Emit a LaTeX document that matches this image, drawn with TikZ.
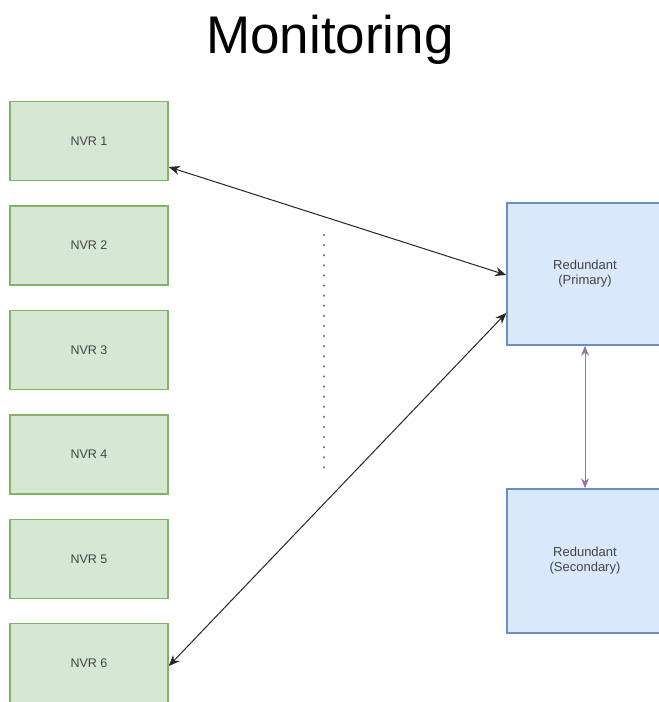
\documentclass[tikz,border=0pt]{standalone}
\usepackage{fontspec}
\setmainfont{Liberation Sans}
\usetikzlibrary{arrows.meta}
\definecolor{gfill}{HTML}{D5E8D4}
\definecolor{gline}{HTML}{82B366}
\definecolor{bfill}{HTML}{DAE8FC}
\definecolor{bline}{HTML}{6C8EBF}
\definecolor{purp}{HTML}{9673A6}
\definecolor{txt}{HTML}{444444}
\tikzset{
  nvr/.style={draw=gline, fill=gfill, line width=1.6pt, minimum width=158pt, minimum height=79pt, inner sep=0pt, text=txt, font=\fontsize{12.5}{15}\selectfont},
  red/.style={draw=bline, fill=bfill, line width=1.6pt, minimum width=156pt, minimum height=142pt, inner sep=0pt, text=txt, align=center, font=\fontsize{13}{15}\selectfont},
  link/.style={draw=black!85, line width=1pt, {Stealth[length=11pt,width=9pt]}-{Stealth[length=11pt,width=9pt]}},
  plink/.style={draw=purp, line width=1pt, {Stealth[length=10pt,width=8pt]}-{Stealth[length=10pt,width=8pt]}},
  dots/.style={draw=black!60, line width=2.4pt, line cap=round, dash pattern=on 0.1pt off 10pt}
}
\begin{document}
\begin{tikzpicture}[x=1pt,y=-1pt]
\useasboundingbox (0,0) rectangle (659,702);
\clip (0,0) rectangle (659,702);
\fill[white] (0,0) rectangle (659,702);
\node[anchor=base, font=\fontsize{53}{60}\selectfont] (title) at (330,53) {Monitoring};
\node[nvr] (n1) at (89,141) {NVR 1};
\node[nvr] (n2) at (89,245.5) {NVR 2};
\node[nvr] (n3) at (89,350) {NVR 3};
\node[nvr] (n4) at (89,454.5) {NVR 4};
\node[nvr] (n5) at (89,559) {NVR 5};
\node[nvr] (n6) at (89,663) {NVR 6};
\node[red] (p) at (585,274) {Redundant\\(Primary)};
\node[red, minimum height=144pt] (s) at (585,561) {Redundant\\(Secondary)};
\coordinate (d1) at (324,235);
\coordinate (d2) at (324,476);
\draw[dots] (d1) -- (d2);
\draw[link] ([yshift=-26pt]n1.east) -- ([yshift=-1pt]p.west);
\draw[link] ([yshift=-3pt]n6.east) -- ([yshift=-39pt]p.west);
\draw[plink] (p.south) -- (s.north);
\end{tikzpicture}
\end{document}
